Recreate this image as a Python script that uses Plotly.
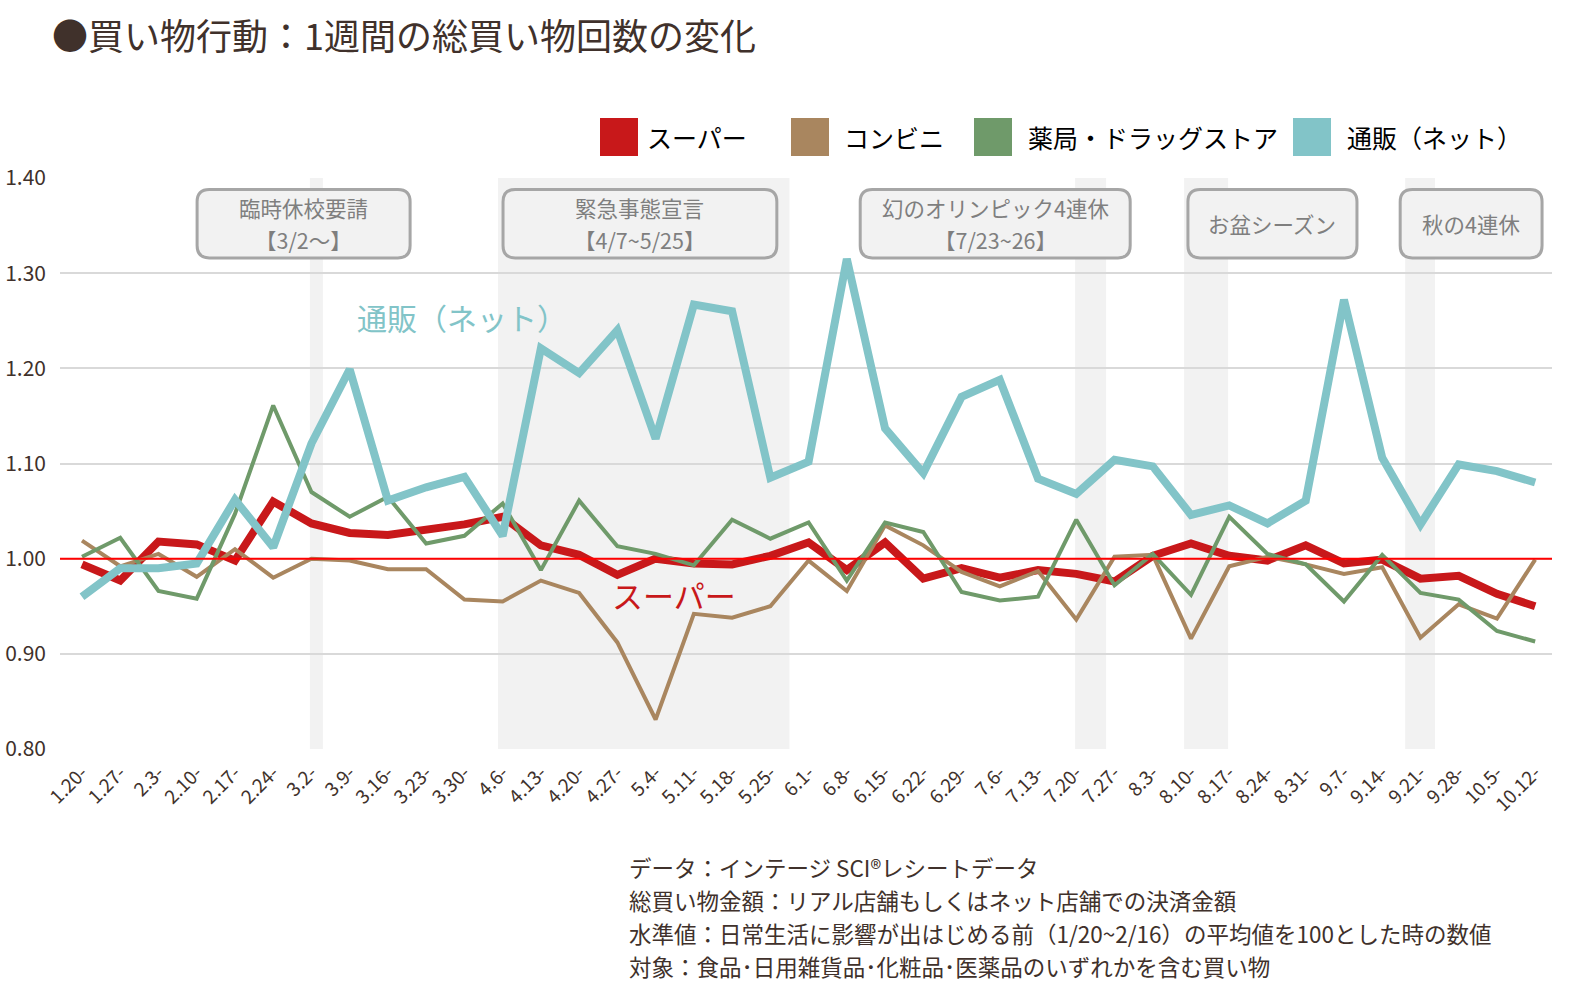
import plotly.graph_objects as go

FONT = "Noto Sans CJK JP"
TXT = "#40312b"

weeks = ["1.20-", "1.27-", "2.3-", "2.10-", "2.17-", "2.24-", "3.2-", "3.9-", "3.16-", "3.23-",
         "3.30-", "4.6-", "4.13-", "4.20-", "4.27-", "5.4-", "5.11-", "5.18-", "5.25-", "6.1-",
         "6.8-", "6.15-", "6.22-", "6.29-", "7.6-", "7.13-", "7.20-", "7.27-", "8.3-", "8.10-",
         "8.17-", "8.24-", "8.31-", "9.7-", "9.14-", "9.21-", "9.28-", "10.5-", "10.12-"]

super_vals = [0.994, 0.977, 1.018, 1.015, 0.998, 1.060, 1.037, 1.027, 1.025, 1.030,
              1.036, 1.044, 1.014, 1.004, 0.983, 1.000, 0.995, 0.994, 1.003, 1.017,
              0.988, 1.017, 0.979, 0.990, 0.980, 0.988, 0.984, 0.976, 1.003, 1.016,
              1.003, 0.998, 1.014, 0.995, 0.999, 0.979, 0.982, 0.963, 0.950]
conv_vals = [1.019, 0.992, 1.005, 0.981, 1.010, 0.980, 1.000, 0.998, 0.989, 0.989,
             0.957, 0.955, 0.977, 0.964, 0.912, 0.831, 0.942, 0.938, 0.950, 0.998,
             0.966, 1.035, 1.014, 0.986, 0.971, 0.987, 0.936, 1.002, 1.004, 0.916,
             0.992, 1.002, 0.994, 0.984, 0.991, 0.917, 0.952, 0.937, 0.999]
drug_vals = [1.002, 1.022, 0.966, 0.958, 1.047, 1.161, 1.070, 1.044, 1.065, 1.016,
             1.024, 1.058, 0.988, 1.061, 1.013, 1.005, 0.993, 1.041, 1.021, 1.038,
             0.977, 1.038, 1.028, 0.965, 0.956, 0.960, 1.041, 0.972, 1.005, 0.962,
             1.044, 1.005, 0.994, 0.955, 1.004, 0.964, 0.957, 0.924, 0.913]
net_vals = [0.960, 0.990, 0.990, 0.995, 1.062, 1.012, 1.121, 1.199, 1.061, 1.075,
            1.086, 1.024, 1.221, 1.195, 1.240, 1.126, 1.267, 1.260, 1.085, 1.102,
            1.315, 1.137, 1.090, 1.170, 1.188, 1.084, 1.068, 1.104, 1.097, 1.046,
            1.056, 1.037, 1.061, 1.272, 1.106, 1.036, 1.099, 1.092, 1.080]

series_names = ["スーパー", "コンビニ", "薬局・ドラッグストア", "通販（ネット）"]
series_vals = [super_vals, conv_vals, drug_vals, net_vals]
series_colors = ["#c8181a", "#a9865f", "#6f9a6a", "#82c4c8"]
series_widths = [8, 4, 4, 8]

# shaded periods (in week-index units)
band_starts = [5.96, 10.88, 25.97, 28.82, 34.6]
band_ends = [6.30, 18.5, 26.78, 29.97, 35.38]

# event boxes
event_labels = [["臨時休校要請", "【3/2～】"], ["緊急事態宣言", "【4/7~5/25】"],
                ["幻のオリンピック4連休", "【7/23~26】"], ["お盆シーズン"], ["秋の4連休"]]
event_x0 = [3.01, 11.01, 20.35, 28.92, 34.47]
event_x1 = [8.58, 18.17, 27.41, 33.34, 38.18]
event_y0, event_y1 = 1.316, 1.388

footer_lines = ["データ：インテージ SCI®レシートデータ",
                "総買い物金額：リアル店舗もしくはネット店舗での決済金額",
                "水準値：日常生活に影響が出はじめる前（1/20~2/16）の平均値を100とした時の数値",
                "対象：食品･日用雑貨品･化粧品･医薬品のいずれかを含む買い物"]

W, H = 1569, 993
ML, MR, MT, MB = 60, 17, 178, 244
PW, PH = W - ML - MR, H - MT - MB

def px_x(px):
    return (px - ML) / PW

def px_y(py):
    return (H - MB - py) / PH

x = list(range(len(weeks)))
fig = go.Figure()
for name, vals, col, wd in zip(series_names, series_vals, series_colors, series_widths):
    fig.add_trace(go.Scatter(x=x, y=vals, mode="lines", name=name,
                             line=dict(color=col, width=wd), showlegend=False))

shapes = []
for a, b in zip(band_starts, band_ends):
    shapes.append(dict(type="rect", xref="x", yref="paper", x0=a, x1=b, y0=0, y1=1,
                       fillcolor="#f2f2f2", line=dict(width=0), layer="below"))
shapes.append(dict(type="line", xref="paper", yref="y", x0=0, x1=1, y0=1.0, y1=1.0,
                   line=dict(color="#ff0000", width=2), layer="above"))

rx, ry = 0.32, 0.013
annotations = []
for lines, a, b in zip(event_labels, event_x0, event_x1):
    y0, y1 = event_y0, event_y1
    path = (f"M {a+rx},{y1} L {b-rx},{y1} Q {b},{y1} {b},{y1-ry} L {b},{y0+ry} "
            f"Q {b},{y0} {b-rx},{y0} L {a+rx},{y0} Q {a},{y0} {a},{y0+ry} "
            f"L {a},{y1-ry} Q {a},{y1} {a+rx},{y1} Z")
    shapes.append(dict(type="path", xref="x", yref="y", path=path, fillcolor="#f2f2f2",
                       line=dict(color="#a6a6a6", width=3), layer="above"))
    mid = (y0 + y1) / 2
    step = 0.0336
    n = len(lines)
    for j, ln in enumerate(lines):
        yy = mid + step * ((n - 1) / 2 - j)
        annotations.append(dict(x=(a + b) / 2, y=yy, xref="x", yref="y", text=ln,
                                showarrow=False, font=dict(family=FONT, size=21.5, color="#7f7f7f"),
                                xanchor="center", yanchor="middle"))

# custom legend
leg_sq_x = [600, 791, 974, 1293]
leg_txt_x = [645, 842, 1026, 1345]
for name, col, sx, tx in zip(series_names, series_colors, leg_sq_x, leg_txt_x):
    shapes.append(dict(type="rect", xref="paper", yref="paper", x0=px_x(sx), x1=px_x(sx + 38),
                       y0=px_y(156), y1=px_y(118), fillcolor=col, line=dict(width=0)))
    annotations.append(dict(x=px_x(tx), y=px_y(137), xref="paper", yref="paper", text=name,
                            showarrow=False, xanchor="left", yanchor="middle",
                            font=dict(family=FONT, size=25, color="#000000")))

# inline labels
annotations.append(dict(x=9.95, y=1.254, xref="x", yref="y", text="通販（ネット）", showarrow=False,
                        font=dict(family=FONT, size=30, color="#82c4c8")))
annotations.append(dict(x=15.48, y=0.962, xref="x", yref="y", text="スーパー", showarrow=False,
                        font=dict(family=FONT, size=31, color="#c8181a")))

# footer (one annotation per line)
for k, line in enumerate(footer_lines):
    annotations.append(dict(x=px_x(627), y=px_y(867 + 33 * k), xref="paper", yref="paper",
                            text=line, showarrow=False, align="left",
                            xanchor="left", yanchor="middle",
                            font=dict(family=FONT, size=22.5, color=TXT)))

fig.update_layout(
    width=W, height=H,
    margin=dict(l=ML, r=MR, t=MT, b=MB, autoexpand=False),
    paper_bgcolor="white", plot_bgcolor="white",
    font=dict(family=FONT, color=TXT),
    title=dict(text="●買い物行動：1週間の総買い物回数の変化", x=52 / W, xref="container",
               xanchor="left", y=1 - 37 / H, yref="container", yanchor="middle",
               font=dict(family=FONT, size=36, color=TXT)),
    shapes=shapes, annotations=annotations, showlegend=False,
    xaxis=dict(range=[-0.575, 38.44], tickvals=x, ticktext=weeks, tickangle=-45,
               showgrid=False, zeroline=False, showline=False, ticks="", automargin=False,
               tickfont=dict(family=FONT, size=19, color=TXT), ticklabelstandoff=8),
    yaxis=dict(range=[0.8, 1.4], tickvals=[0.8, 0.9, 1.0, 1.1, 1.2, 1.3, 1.4],
               tickformat=".2f", showgrid=True, gridcolor="#d9d9d9", gridwidth=2,
               zeroline=False, showline=False, ticks="", automargin=False,
               tickfont=dict(family=FONT, size=21, color=TXT), ticklabelstandoff=13),
)

fig.write_html("out.html")
